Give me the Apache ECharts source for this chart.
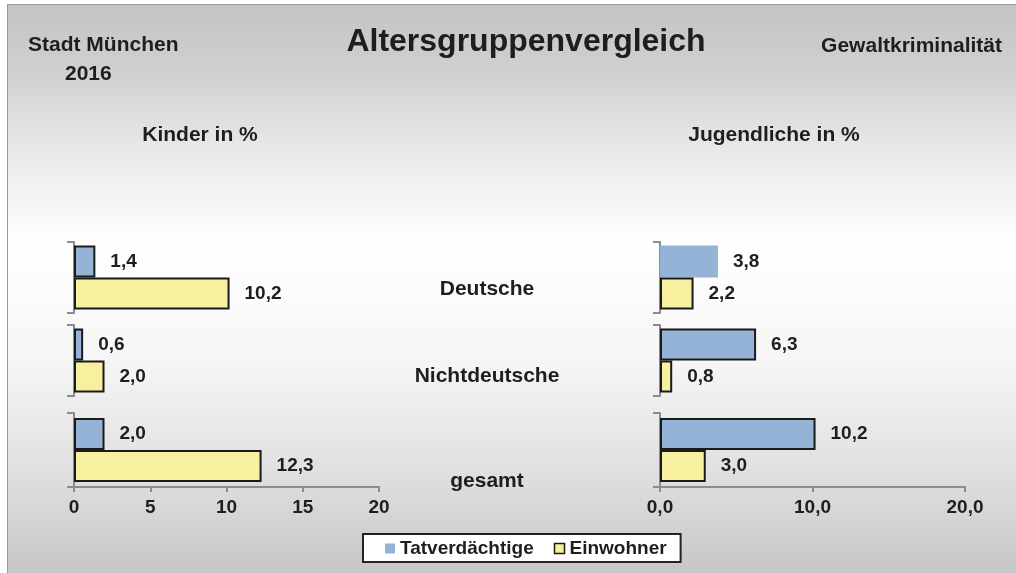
<!DOCTYPE html>
<html>
<head>
<meta charset="utf-8">
<script src="https://cdn.jsdelivr.net/npm/echarts@6/dist/echarts.min.js"></script>
<style>
  html, body { margin: 0; padding: 0; background: #ffffff; }
  #frame {
    position: absolute; left: 7px; top: 4px; width: 1009px; height: 569px;
    border-left: 1px solid #9a9a9a; border-top: 1px solid #9a9a9a;
    background: linear-gradient(to bottom, #c4c4c4 0%, #d0d0d0 12%, #e8e8e8 25%, #ffffff 42%, #f6f6f6 62%, #e0e0e0 82%, #c6c6c6 100%);
  }
  #chart { position: absolute; left: 0; top: 0; width: 1016px; height: 573px; }
</style>
</head>
<body>
<div id="frame"></div>
<div id="chart"></div>
<script>
// Groups (one small bar chart block per group and age class)
const groups = ['Deutsche', 'Nichtdeutsche', 'gesamt'];

// Kinder in %
const kinderTatverdaechtige = [1.4, 0.6, 2.0];
const kinderEinwohner = [10.2, 2.0, 12.3];

// Jugendliche in %
const jugendTatverdaechtige = [3.8, 6.3, 10.2];
const jugendEinwohner = [2.2, 0.8, 3.0];

// Value axis range and tick steps
const axisMax = 20;
const kinderStep = 5;
const jugendStep = 10;

const FONT = '"Liberation Sans", Arial, sans-serif';
const TEXT = '#1e1e1e';
const AXIS = '#8c8c8c';
const BLUE = '#95b3d7';
const YELLOW = '#f7f09e';
const EDGE = '#1a1a1a';

const comma1 = v => Number(v).toFixed(1).replace('.', ',');

// Vertical layout of the three blocks per side
const blockTop = [242, 325, 413];
const blockHeight = [71, 71, 74];
// line box used to push each group name below its block centre
const nameLine = [24, 32, 62];

const grids = [], xAxes = [], yAxes = [], series = [];

function buildSide(tv, ew, left, step, fmt, withNames, unframedTv) {
  for (let g = 0; g < groups.length; g++) {
    const idx = grids.length;
    const last = g === groups.length - 1;
    grids.push({ left: left, width: 305, top: blockTop[g], height: blockHeight[g], containLabel: false });
    xAxes.push({
      type: 'value', gridIndex: idx, min: 0, max: axisMax, interval: step,
      axisLine: { show: last, lineStyle: { color: AXIS, width: 2 } },
      axisTick: { show: last, length: 5, lineStyle: { color: AXIS, width: 2 } },
      axisLabel: { show: last, formatter: fmt, color: TEXT, fontFamily: FONT, fontSize: 19, fontWeight: 'bold', margin: 11 },
      splitLine: { show: false }
    });
    yAxes.push({
      type: 'category', gridIndex: idx, inverse: true, data: [groups[g]],
      axisLine: { show: true, lineStyle: { color: AXIS, width: 2 } },
      axisTick: { show: true, length: 7, lineStyle: { color: AXIS, width: 2 } },
      axisLabel: withNames ? {
        show: true, align: 'center', verticalAlign: 'top', lineHeight: nameLine[g],
        margin: 173, color: TEXT, fontFamily: FONT, fontSize: 21, fontWeight: 'bold'
      } : { show: false }
    });
    const label = {
      show: true, position: 'right', distance: 15, formatter: p => comma1(p.value),
      color: TEXT, fontFamily: FONT, fontSize: 19, fontWeight: 'bold'
    };
    const tvItem = unframedTv.includes(g)
      ? { value: tv[g], itemStyle: { borderWidth: 0 } }
      : tv[g];
    series.push({
      type: 'bar', name: 'Tatverdächtige', xAxisIndex: idx, yAxisIndex: idx,
      data: [tvItem], barWidth: 32, barGap: '0%', label: label,
      itemStyle: { color: BLUE, borderColor: EDGE, borderWidth: 2 }
    });
    series.push({
      type: 'bar', name: 'Einwohner', xAxisIndex: idx, yAxisIndex: idx,
      data: [ew[g]], barWidth: 32, barGap: '0%', label: label,
      itemStyle: { color: YELLOW, borderColor: EDGE, borderWidth: 2 }
    });
  }
}

buildSide(kinderTatverdaechtige, kinderEinwohner, 74, kinderStep, v => String(v), false, []);
buildSide(jugendTatverdaechtige, jugendEinwohner, 660, jugendStep, v => comma1(v), true, [0]);

const titleStyle = size => ({ color: TEXT, fontFamily: FONT, fontSize: size, fontWeight: 'bold' });

const option = {
  animation: false,
  backgroundColor: 'transparent',
  title: [
    { text: 'Altersgruppenvergleich', left: 526, top: 26, textAlign: 'center', textStyle: titleStyle(32), padding: 0 },
    { text: 'Stadt München', left: 28, top: 35, textStyle: titleStyle(21), padding: 0 },
    { text: '2016', left: 65, top: 64, textStyle: titleStyle(21), padding: 0 },
    { text: 'Gewaltkriminalität', right: 14, top: 36, textStyle: titleStyle(21), padding: 0 },
    { text: 'Kinder in %', left: 200, top: 125, textAlign: 'center', textStyle: titleStyle(21), padding: 0 },
    { text: 'Jugendliche in %', left: 774, top: 125, textAlign: 'center', textStyle: titleStyle(21), padding: 0 }
  ],
  legend: {
    left: 363, top: 534,
    data: [
      { name: 'Tatverdächtige', itemStyle: { borderWidth: 0 } },
      { name: 'Einwohner', itemStyle: { borderWidth: 1.5, borderColor: EDGE } }
    ],
    icon: 'rect', itemWidth: 10, itemHeight: 10, itemGap: 20,
    backgroundColor: '#ffffff', borderColor: '#222222', borderWidth: 2,
    padding: [5, 14, 4, 22],
    textStyle: { color: TEXT, fontFamily: FONT, fontSize: 19, fontWeight: 'bold' },
    selectedMode: false
  },
  grid: grids,
  xAxis: xAxes,
  yAxis: yAxes,
  series: series
};

const chart = echarts.init(document.getElementById('chart'), null, { renderer: 'canvas' });
chart.setOption(option);
</script>
</body>
</html>
